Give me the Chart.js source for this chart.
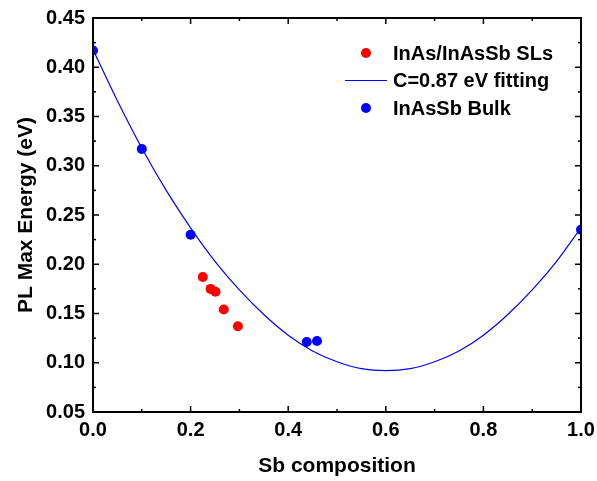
<!DOCTYPE html>
<html>
<head>
<meta charset="utf-8">
<script src="https://cdn.jsdelivr.net/npm/chart.js@4.4.1/dist/chart.umd.min.js"></script>
<style>
  html, body { margin: 0; padding: 0; background: #fff; }
  #wrap { width: 597px; height: 481px; }
</style>
</head>
<body>
<div id="wrap"><canvas id="chart"></canvas></div>
<script>
// InAs/InAsSb superlattices (red)
const slX = [0.225, 0.241, 0.251, 0.268, 0.297];
const slY = [0.187, 0.175, 0.172, 0.154, 0.137];

// InAsSb bulk (blue)
const bulkX = [0.0, 0.1, 0.2, 0.438, 0.459, 1.0];
const bulkY = [0.417, 0.317, 0.230, 0.121, 0.122, 0.235];

// fitting curve
const fitX = [0, 0.05, 0.1, 0.15, 0.2, 0.25, 0.3, 0.35, 0.4, 0.45, 0.5,
              0.55, 0.6, 0.65, 0.7, 0.75, 0.8, 0.85, 0.9, 0.95, 1.0];
const fitY = [0.418, 0.366, 0.318, 0.275, 0.237, 0.203, 0.174, 0.149, 0.128, 0.112, 0.101,
              0.094, 0.092, 0.094, 0.101, 0.112, 0.128, 0.149, 0.174, 0.203, 0.237];

const legendLabels = ["InAs/InAsSb SLs", "C=0.87 eV fitting", "InAsSb Bulk"];

const xMinorStep = 0.1;
const yMinorStep = 0.025;

const pts = (xs, ys) => xs.map((x, i) => ({ x: x, y: ys[i] }));

Chart.defaults.font.family = "'Liberation Sans', Arial, sans-serif";
Chart.defaults.color = "#000";

// frame with inward ticks on all four sides
const frameTicks = {
  id: "frameTicks",
  afterDatasetsDraw(chart) {
    const { ctx, chartArea: a, scales: { x, y } } = chart;
    ctx.save();
    ctx.strokeStyle = "#000";
    ctx.lineWidth = 1.5;
    const tick = (x1, y1, x2, y2) => {
      ctx.beginPath(); ctx.moveTo(x1, y1); ctx.lineTo(x2, y2); ctx.stroke();
    };
    for (let v = x.min; v <= x.max + 1e-9; v += xMinorStep) {
      const px = x.getPixelForValue(v);
      const major = Math.round(v * 10) % 2 === 0;
      const len = major ? 6 : 3;
      tick(px, a.bottom, px, a.bottom - len);
      tick(px, a.top, px, a.top + len);
    }
    for (let v = y.min; v <= y.max + 1e-9; v += yMinorStep) {
      const py = y.getPixelForValue(v);
      const major = Math.round(v * 1000) % 50 === 0;
      const len = major ? 6 : 3;
      tick(a.left, py, a.left + len, py);
      tick(a.right, py, a.right - len, py);
    }
    ctx.lineWidth = 2;
    ctx.strokeRect(a.left, a.top, a.right - a.left, a.bottom - a.top);
    ctx.restore();
  }
};

// legend inside the plot, top right
const insideLegend = {
  id: "insideLegend",
  afterDraw(chart) {
    const { ctx, chartArea: a } = chart;
    const ds = chart.data.datasets;
    ctx.save();
    ctx.font = "bold 20px 'Liberation Sans', Arial, sans-serif";
    ctx.textBaseline = "middle";
    ctx.textAlign = "left";
    ds.forEach((d, i) => {
      const cy = a.top + 35 + i * 27.5;
      const sx = a.right - 215;
      if (d.showLine) {
        ctx.strokeStyle = d.borderColor;
        ctx.lineWidth = 1;
        ctx.beginPath(); ctx.moveTo(sx - 21, cy); ctx.lineTo(sx + 21, cy); ctx.stroke();
      } else {
        ctx.fillStyle = d.backgroundColor;
        ctx.beginPath(); ctx.arc(sx, cy, 5, 0, Math.PI * 2); ctx.fill();
      }
      ctx.fillStyle = "#000";
      ctx.fillText(d.label, sx + 27, cy + 1);
    });
    ctx.restore();
  }
};

new Chart(document.getElementById("chart"), {
  type: "scatter",
  data: {
    datasets: [
      {
        label: legendLabels[0],
        data: pts(slX, slY),
        backgroundColor: "#ff0000",
        borderColor: "#ff0000",
        pointRadius: 5,
        pointBorderWidth: 0,
        clip: 0,
        order: 1
      },
      {
        label: legendLabels[1],
        data: pts(fitX, fitY),
        showLine: true,
        borderColor: "#0000ff",
        backgroundColor: "#0000ff",
        borderWidth: 1.2,
        pointRadius: 0,
        cubicInterpolationMode: "monotone",
        clip: 0,
        order: 3
      },
      {
        label: legendLabels[2],
        data: pts(bulkX, bulkY),
        backgroundColor: "#0000ff",
        borderColor: "#0000ff",
        pointRadius: 5,
        pointBorderWidth: 0,
        clip: 0,
        order: 2
      }
    ]
  },
  options: {
    responsive: true,
    maintainAspectRatio: false,
    animation: false,
    layout: { padding: { top: 18, right: 16, left: 0, bottom: 0 } },
    plugins: { legend: { display: false }, tooltip: { enabled: false } },
    scales: {
      x: {
        type: "linear",
        min: 0,
        max: 1,
        grid: { display: false, drawTicks: false },
        border: { display: false },
        ticks: {
          stepSize: 0.2,
          padding: 6,
          font: { size: 20, weight: "bold" },
          callback: (v) => v.toFixed(1)
        },
        title: {
          display: true,
          text: "Sb composition",
          font: { size: 21, weight: "bold" },
          padding: { top: 0, bottom: 2 }
        },
        afterFit: (s) => { s.height = 69; s.paddingRight = 0; s.paddingLeft = 0; }
      },
      y: {
        type: "linear",
        min: 0.05,
        max: 0.45,
        grid: { display: false, drawTicks: false },
        border: { display: false },
        ticks: {
          stepSize: 0.05,
          padding: 8,
          font: { size: 20, weight: "bold" },
          callback: (v) => v.toFixed(2)
        },
        title: {
          display: true,
          text: "PL Max Energy (eV)",
          font: { size: 21, weight: "bold" },
          padding: { top: 14, bottom: 0 }
        },
        afterFit: (s) => { s.width = 93; s.paddingTop = 0; s.paddingBottom = 0; }
      }
    }
  },
  plugins: [frameTicks, insideLegend]
});
</script>
</body>
</html>
